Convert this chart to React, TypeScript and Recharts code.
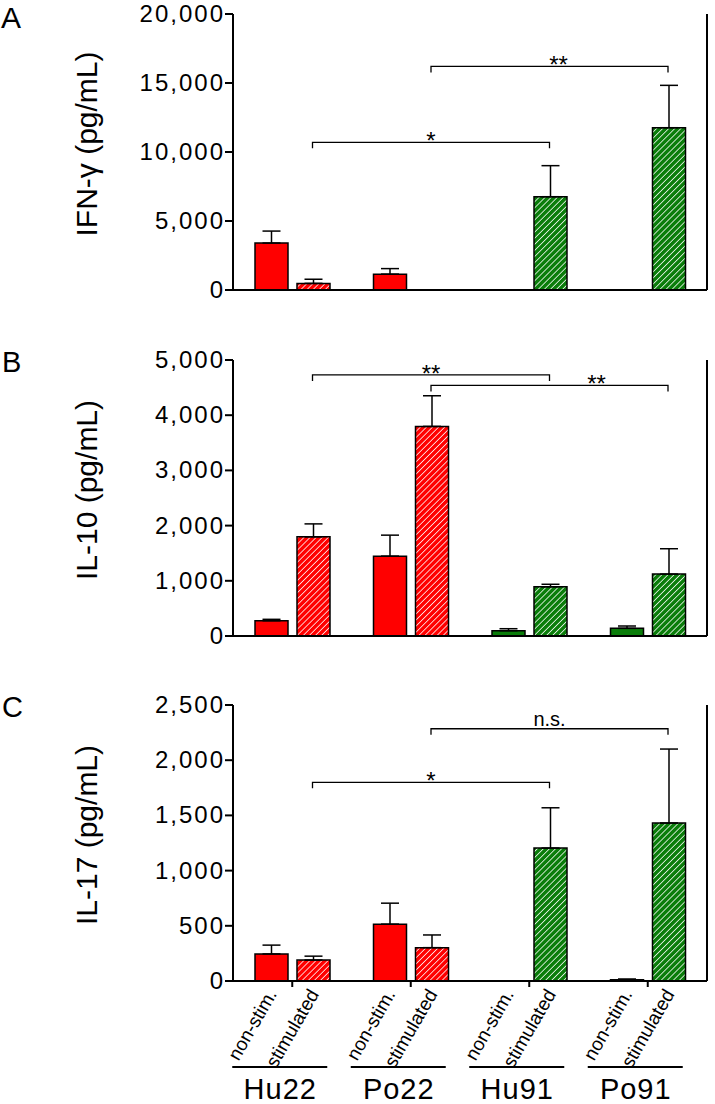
import React from 'react';
import { BarChart, Bar, XAxis, YAxis, ErrorBar, Cell, ReferenceLine } from 'recharts';

// ---------- data ----------
const groups = ['Hu22', 'Po22', 'Hu91', 'Po91'];
const conditionLabels = ['non-stim.', 'stimulated'];
const groupColors = ['#ff0000', '#ff0000', '#0a7d0a', '#0a7d0a'];
const groupHatch = ['url(#hatch-red)', 'url(#hatch-red)', 'url(#hatch-green)', 'url(#hatch-green)'];

const ifngNonStim = [3400, 1150, 0, 0];
const ifngNonStimErr = [870, 400, 0, 0];
const ifngStim = [480, 0, 6760, 11760];
const ifngStimErr = [300, 0, 2250, 3070];
const ifngTicks = [0, 5000, 10000, 15000, 20000];

const il10NonStim = [277, 1447, 96, 139];
const il10NonStimErr = [25, 380, 36, 42];
const il10Stim = [1796, 3797, 892, 1121];
const il10StimErr = [235, 555, 45, 460];
const il10Ticks = [0, 1000, 2000, 3000, 4000, 5000];

const il17NonStim = [245, 515, 0, 12];
const il17NonStimErr = [80, 190, 0, 6];
const il17Stim = [190, 302, 1204, 1431];
const il17StimErr = [35, 115, 365, 670];
const il17Ticks = [0, 500, 1000, 1500, 2000, 2500];

// brackets: between the stimulated bars of two groups
const ifngBrackets = [
  { from: 'Hu22', to: 'Hu91', y: 10700, label: '*', dx: 0 },
  { from: 'Po22', to: 'Po91', y: 16200, label: '**', dx: 9 },
];
const il10Brackets = [
  { from: 'Hu22', to: 'Hu91', y: 4730, label: '**', dx: 0 },
  { from: 'Po22', to: 'Po91', y: 4540, label: '**', dx: 47 },
];
const il17Brackets = [
  { from: 'Hu22', to: 'Hu91', y: 1800, label: '*', dx: 0 },
  { from: 'Po22', to: 'Po91', y: 2285, label: 'n.s.', dx: 0 },
];

// ---------- layout ----------
const FONT = '"Liberation Sans", Arial, Helvetica, sans-serif';
const W = 715;
const Y_AXIS_W = 233;
const RIGHT_AXIS_W = 8;
const PLOT_W = W - Y_AXIS_W - RIGHT_AXIS_W;
const BAND = PLOT_W / groups.length;
const BAR_SIZE = 33;
const BAR_GAP = 9;
const BAR_OFFSET = Math.floor((BAND - (2 * BAR_SIZE + BAR_GAP)) / 2);
const NS_CENTER = BAR_OFFSET + BAR_SIZE / 2; // px from band start
const ST_CENTER = BAR_OFFSET + BAR_SIZE + BAR_GAP + BAR_SIZE / 2;
const ST_SHIFT = ST_CENTER - BAND / 2; // stimulated bar centre relative to band centre

const fmt = (v: number) => v.toLocaleString('en-US');

const YTick = (props: any) => {
  const { x, y, payload } = props;
  return (
    <text x={x} y={y + 8} textAnchor="end" fontSize={24} fontFamily={FONT} fill="#000" letterSpacing={2}>
      {fmt(payload.value)}
    </text>
  );
};

const rotStyle = { fontSize: '19px', fontFamily: FONT };

const GroupTick = (props: any) => {
  const { x, y, payload } = props;
  const bandStart = x - BAND / 2;
  const ns = bandStart + NS_CENTER;
  const st = bandStart + ST_CENTER;
  return (
    <g>
      <text transform={`translate(${ns + 7},${y + 5}) rotate(-60)`} textAnchor="end" style={rotStyle} fill="#000">
        {conditionLabels[0]}
      </text>
      <text transform={`translate(${st + 7},${y + 5}) rotate(-60)`} textAnchor="end" style={rotStyle} fill="#000">
        {conditionLabels[1]}
      </text>
      <line x1={x - 60} x2={x + 35} y1={y + 78} y2={y + 78} stroke="#000" strokeWidth={2} />
      <text x={x - 12} y={y + 110} textAnchor="middle" fontSize={29} fontFamily={FONT} fill="#000" letterSpacing={1}>
        {payload.value}
      </text>
    </g>
  );
};

const bracketShape = (label: string, dx: number) => (props: any) => {
  const { y1, y2 } = props;
  const x1 = props.x1 + ST_SHIFT;
  const x2 = props.x2 + ST_SHIFT;
  const ns = label === 'n.s.';
  return (
    <g>
      <path d={`M${x1},${y1 + 6}V${y1}H${x2}V${y2 + 6}`} fill="none" stroke="#000" strokeWidth={1.3} />
      <text x={(x1 + x2) / 2 + dx} y={ns ? y1 - 3 : y1 + 7} textAnchor="middle" fontSize={ns ? 20 : 24} fontFamily={FONT} fill="#000">
        {label}
      </text>
    </g>
  );
};

type PanelProps = {
  top: number;
  height: number;
  marginTop: number;
  xAxisHeight: number;
  ylabel: string;
  ticks: number[];
  nonStim: number[];
  nonStimErr: number[];
  stim: number[];
  stimErr: number[];
  brackets: { from: string; to: string; y: number; label: string; dx: number }[];
  showLabels: boolean;
};

function Panel(p: PanelProps) {
  const data = groups.map((g, i) => ({
    group: g,
    nonStim: p.nonStim[i],
    stim: p.stim[i],
    nonStimErr: [0, p.nonStimErr[i]],
    stimErr: [0, p.stimErr[i]],
  }));
  const max = p.ticks[p.ticks.length - 1];
  const axisStyle = { stroke: '#000', strokeWidth: 2 };
  return (
    <div style={{ position: 'absolute', left: 0, top: p.top, width: W, height: p.height }}>
      <BarChart
        width={W}
        height={p.height}
        data={data}
        margin={{ top: p.marginTop, right: 0, bottom: 0, left: 0 }}
        barSize={BAR_SIZE}
        barGap={BAR_GAP}
      >
        <XAxis
          xAxisId="cat"
          dataKey="group"
          height={p.xAxisHeight}
          interval={0}
          tickSize={6}
          tickMargin={2}
          axisLine={axisStyle}
          tickLine={axisStyle}
          tick={p.showLabels ? (tp: any) => <GroupTick {...tp} /> : false}
        />
        <XAxis
          xAxisId="frame"
          type="number"
          orientation="top"
          domain={[0, 1]}
          allowDataOverflow
          height={0}
          tick={false}
          tickLine={false}
          axisLine={axisStyle}
        />
        <YAxis
          yAxisId="left"
          width={Y_AXIS_W}
          domain={[0, max]}
          ticks={p.ticks}
          interval={0}
          allowDataOverflow
          tickSize={8}
          tickMargin={0}
          axisLine={axisStyle}
          tickLine={axisStyle}
          tick={(tp: any) => <YTick {...tp} />}
          label={{
            content: (lp: any) => {
              const vb = lp.viewBox || { y: 0, height: 0 };
              const cy = vb.y + vb.height / 2 - 8;
              return (
                <text
                  transform={`translate(97,${cy}) rotate(-90)`}
                  textAnchor="middle"
                  fontSize={30}
                  fontFamily={FONT}
                  fill="#000"
                >
                  {p.ylabel}
                </text>
              );
            },
          }}
        />
        <YAxis
          yAxisId="right"
          orientation="right"
          width={RIGHT_AXIS_W}
          domain={[0, max]}
          ticks={p.ticks}
          interval={0}
          allowDataOverflow
          tickSize={8}
          tick={false}
          axisLine={axisStyle}
          tickLine={axisStyle}
        />
        <Bar dataKey="nonStim" xAxisId="cat" yAxisId="left" stroke="#000" strokeWidth={1.5} isAnimationActive={false}>
          {data.map((d, i) => (
            <Cell key={`ns-${i}`} fill={groupColors[i]} />
          ))}
          <ErrorBar dataKey="nonStimErr" direction="y" width={9} stroke="#000" strokeWidth={1.5} isAnimationActive={false} />
        </Bar>
        <Bar dataKey="stim" xAxisId="cat" yAxisId="left" stroke="#000" strokeWidth={1.5} isAnimationActive={false}>
          {data.map((d, i) => (
            <Cell key={`st-${i}`} fill={groupHatch[i]} />
          ))}
          <ErrorBar dataKey="stimErr" direction="y" width={9} stroke="#000" strokeWidth={1.5} isAnimationActive={false} />
        </Bar>
        {p.brackets.map((b, i) => (
          <ReferenceLine
            key={`br-${i}`}
            xAxisId="cat"
            yAxisId="left"
            ifOverflow="visible"
            segment={[
              { x: b.from, y: b.y },
              { x: b.to, y: b.y },
            ]}
            shape={bracketShape(b.label, b.dx)}
          />
        ))}
      </BarChart>
    </div>
  );
}

export default function App() {
  return (
    <div style={{ position: 'absolute', left: 0, top: 0, width: W, height: 1104, background: '#fff', overflow: 'hidden' }}>
      <svg width={W} height={1104} style={{ position: 'absolute', left: 0, top: 0 }}>
        <defs>
          <pattern id="hatch-red" width="4.3" height="4.3" patternUnits="userSpaceOnUse" patternTransform="rotate(45)">
            <rect width="4.3" height="4.3" fill="#ff0000" />
            <line x1="0" y1="0" x2="0" y2="4.3" stroke="#fff" strokeWidth="1.5" />
          </pattern>
          <pattern id="hatch-green" width="4.3" height="4.3" patternUnits="userSpaceOnUse" patternTransform="rotate(45)">
            <rect width="4.3" height="4.3" fill="#0a7d0a" />
            <line x1="0" y1="0" x2="0" y2="4.3" stroke="#fff" strokeWidth="1.5" />
          </pattern>
        </defs>
        <text x={1} y={28} fontSize={30} fontFamily={FONT} fill="#000">A</text>
        <text x={2} y={372} fontSize={29} fontFamily={FONT} fill="#000">B</text>
        <text x={2} y={717} fontSize={29} fontFamily={FONT} fill="#000">C</text>
      </svg>
      <Panel
        top={0}
        height={310}
        marginTop={14}
        xAxisHeight={20}
        ylabel="IFN-γ (pg/mL)"
        ticks={ifngTicks}
        nonStim={ifngNonStim}
        nonStimErr={ifngNonStimErr}
        stim={ifngStim}
        stimErr={ifngStimErr}
        brackets={ifngBrackets}
        showLabels={false}
      />
      <Panel
        top={330}
        height={326}
        marginTop={30}
        xAxisHeight={20}
        ylabel="IL-10 (pg/mL)"
        ticks={il10Ticks}
        nonStim={il10NonStim}
        nonStimErr={il10NonStimErr}
        stim={il10Stim}
        stimErr={il10StimErr}
        brackets={il10Brackets}
        showLabels={false}
      />
      <Panel
        top={680}
        height={424}
        marginTop={25}
        xAxisHeight={123}
        ylabel="IL-17 (pg/mL)"
        ticks={il17Ticks}
        nonStim={il17NonStim}
        nonStimErr={il17NonStimErr}
        stim={il17Stim}
        stimErr={il17StimErr}
        brackets={il17Brackets}
        showLabels={true}
      />
    </div>
  );
}
